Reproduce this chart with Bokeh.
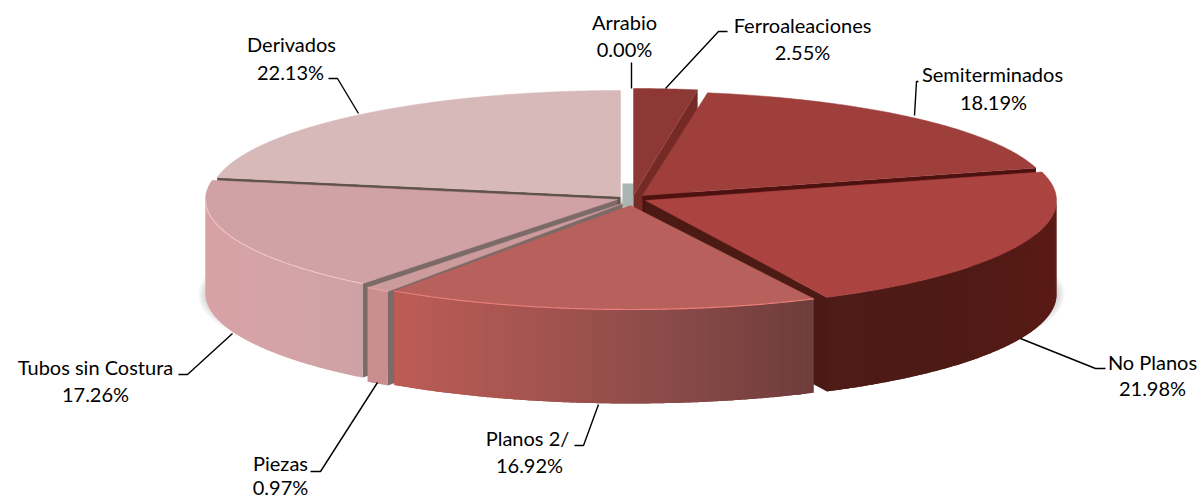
import math
from bokeh.plotting import figure
from bokeh.core.properties import value
from bokeh.embed import file_html
from bokeh.resources import INLINE

# ---- data ----
categories = ["Arrabio", "Ferroaleaciones", "Semiterminados", "No Planos", "Planos 2/", "Piezas", "Tubos sin Costura", "Derivados"]
shares = [0.00, 2.55, 18.19, 21.98, 16.92, 0.97, 17.26, 22.13]

# ---- per-slice drawing geometry (centre, radii) ----
geom = {
    "Ferroaleaciones": (633, 195, 402, 107),
    "Semiterminados": (642, 195, 408, 104),
    "No Planos": (645, 200, 411, 108),
    "Planos 2/": (630, 205, 415, 104),
    "Piezas": (622, 203, 412, 107),
    "Tubos sin Costura": (617, 199, 412, 107),
    "Derivados": (620, 196, 410, 106),
}
DEPTH = 94
top_col = {"Ferroaleaciones": "#8e3835", "Semiterminados": "#9e3f3c", "No Planos": "#ab4340",
           "Planos 2/": "#b8605c", "Piezas": "#cc9b9c", "Tubos sin Costura": "#d0a2a5", "Derivados": "#d8b9b9"}
wall_col = {"Ferroaleaciones": "#752a26", "Semiterminados": "#4d1210", "No Planos": "#4b1a15",
            "Planos 2/": "#7b6a68", "Piezas": "#7b6a68", "Tubos sin Costura": "#7b6a68", "Derivados": "#5f5249"}
rim_stops = {
    "No Planos": ["#4f1b17", "#4d1a16", "#501a15", "#5a1a15"],
    "Planos 2/": ["#bd5c57", "#a5544f", "#8a4a48", "#6e3d3c"],
    "Piezas": ["#c98f90", "#c98f90"],
    "Tubos sin Costura": ["#d8a2a5", "#d4a3a6", "#cea2a5"],
}
rim_highlight = {"Tubos sin Costura": "#f3c4c6", "Planos 2/": "#e97f7b", "Piezas": "#e9a3a3"}

label_pos = [(624, 21), (802, 24), (992, 73), (1152, 361), (527, 437), (280, 462), (95, 366), (291, 43)]
value_pos = [(624, 48), (802, 51), (993, 101), (1152, 387), (529, 464), (280, 486), (95, 393), (290, 71)]
leaders = [
    ([631, 631], [62, 88]),
    ([727, 718, 665], [31, 31, 88]),
    ([918, 916, 914], [81, 81, 115]),
    ([1105, 1095, 1020], [368, 368, 338]),
    ([574, 583, 598], [445, 445, 404]),
    ([310, 320, 377], [471, 471, 382]),
    ([178, 187, 232], [374, 374, 333]),
    ([328, 337, 358], [78, 78, 113]),
]


def hex2rgb(h):
    return tuple(int(h[i:i + 2], 16) for i in (1, 3, 5))


def mix(stops, t):
    t = max(0, min(1, t)) * (len(stops) - 1)
    i = min(int(t), len(stops) - 2)
    f = t - i
    a, b = hex2rgb(stops[i]), hex2rgb(stops[i + 1])
    return "#%02x%02x%02x" % tuple(round(a[k] + (b[k] - a[k]) * f) for k in range(3))


def pt(g, th):
    r = math.radians(th)
    return g[0] + g[2] * math.sin(r), g[1] - g[3] * math.cos(r)


def arc(g, t0, t1, n=None):
    n = n or max(2, int(abs(t1 - t0) * 2))
    return [pt(g, t0 + (t1 - t0) * i / n) for i in range(n + 1)]


p = figure(width=1198, height=498, x_range=(0, 1198), y_range=(498, 0), output_backend="svg",
           toolbar_location=None, min_border=0, background_fill_color="white", border_fill_color="white")
p.axis.visible = False
p.grid.visible = False
p.outline_line_color = None

# soft shadow
for k in range(8):
    g = (631, 294, 422 + k * 1.6, 90 + k * 1.2)
    e = arc(g, 0, 360, 240)
    p.patch([q[0] for q in e], [q[1] for q in e], fill_color="#5f6a6a", fill_alpha=0.05, line_color=None)

# slice angular extents
angles = {}
cum = 0.0
for c, s in zip(categories, shares):
    angles[c] = (cum * 3.6, (cum + s) * 3.6)
    cum += s


def wall(c, th):
    g = geom[c]
    x, y = pt(g, th)
    p.patch([g[0], x, x, g[0]], [g[1], y, y + DEPTH, g[1] + DEPTH], fill_color=wall_col[c], line_color=None)


def top(c):
    g = geom[c]
    t0, t1 = angles[c]
    e = arc(g, t0, t1)
    p.patch([g[0]] + [q[0] for q in e], [g[1]] + [q[1] for q in e], fill_color=top_col[c], line_color=top_col[c], line_width=0.5)


def rim(c):
    if c not in rim_stops:
        return
    g = geom[c]
    t0, t1 = angles[c]
    a, b = max(t0, 90), min(t1, 270)
    n = max(2, int(b - a))
    x0, x1 = pt(g, b)[0], pt(g, a)[0]
    for i in range(n):
        u, v = a + (b - a) * i / n, a + (b - a) * min(i + 2, n) / n  # overlap next strip: no seams
        e = arc(g, u, v, 6)
        col = mix(rim_stops[c], (pt(g, u)[0] - x0) / max(x1 - x0, 1))
        xs = [q[0] for q in e] + [q[0] for q in reversed(e)]
        ys = [q[1] for q in e] + [q[1] + DEPTH for q in reversed(e)]
        p.patch(xs, ys, fill_color=col, line_color=None)


# back-to-front painting
fx = geom["Derivados"][0] + 2
fy = geom["Derivados"][1]
p.patch([fx, fx + 11, fx + 11, fx], [fy - 13, fy - 13, fy + 10, fy + 10], fill_color="#a9b5b3", line_color=None)

wall("Derivados", angles["Derivados"][0])
top("Derivados")
wall("Ferroaleaciones", angles["Ferroaleaciones"][1])
top("Ferroaleaciones")
wall("Semiterminados", angles["Semiterminados"][1])
top("Semiterminados")
wall("No Planos", angles["No Planos"][1])
rim("No Planos")
top("No Planos")
wall("Tubos sin Costura", angles["Tubos sin Costura"][0])
rim("Tubos sin Costura")
top("Tubos sin Costura")
wall("Piezas", angles["Piezas"][0])
rim("Piezas")
top("Piezas")
rim("Planos 2/")
top("Planos 2/")
for c in rim_highlight:
    g = geom[c]
    t0, t1 = angles[c]
    e = arc(g, max(t0, 90), min(t1, 270))
    p.line([q[0] for q in e], [q[1] for q in e], line_color=rim_highlight[c], line_width=1.2)

# leaders
for lx, ly in leaders:
    p.line(lx, ly, line_color="#000000", line_width=1.4)

# labels
texts, tx, ty = [], [], []
for c, s, lp, vp in zip(categories, shares, label_pos, value_pos):
    texts += [c, f"{s:.2f}%"]
    tx += [lp[0], vp[0]]
    ty += [lp[1], vp[1]]
p.text(x=tx, y=ty, text=texts, text_font=value("Lato"), text_font_size="20px", text_color="#000000",
       text_align="center", text_baseline="middle")

open("out.html", "w").write(file_html(p, INLINE))
